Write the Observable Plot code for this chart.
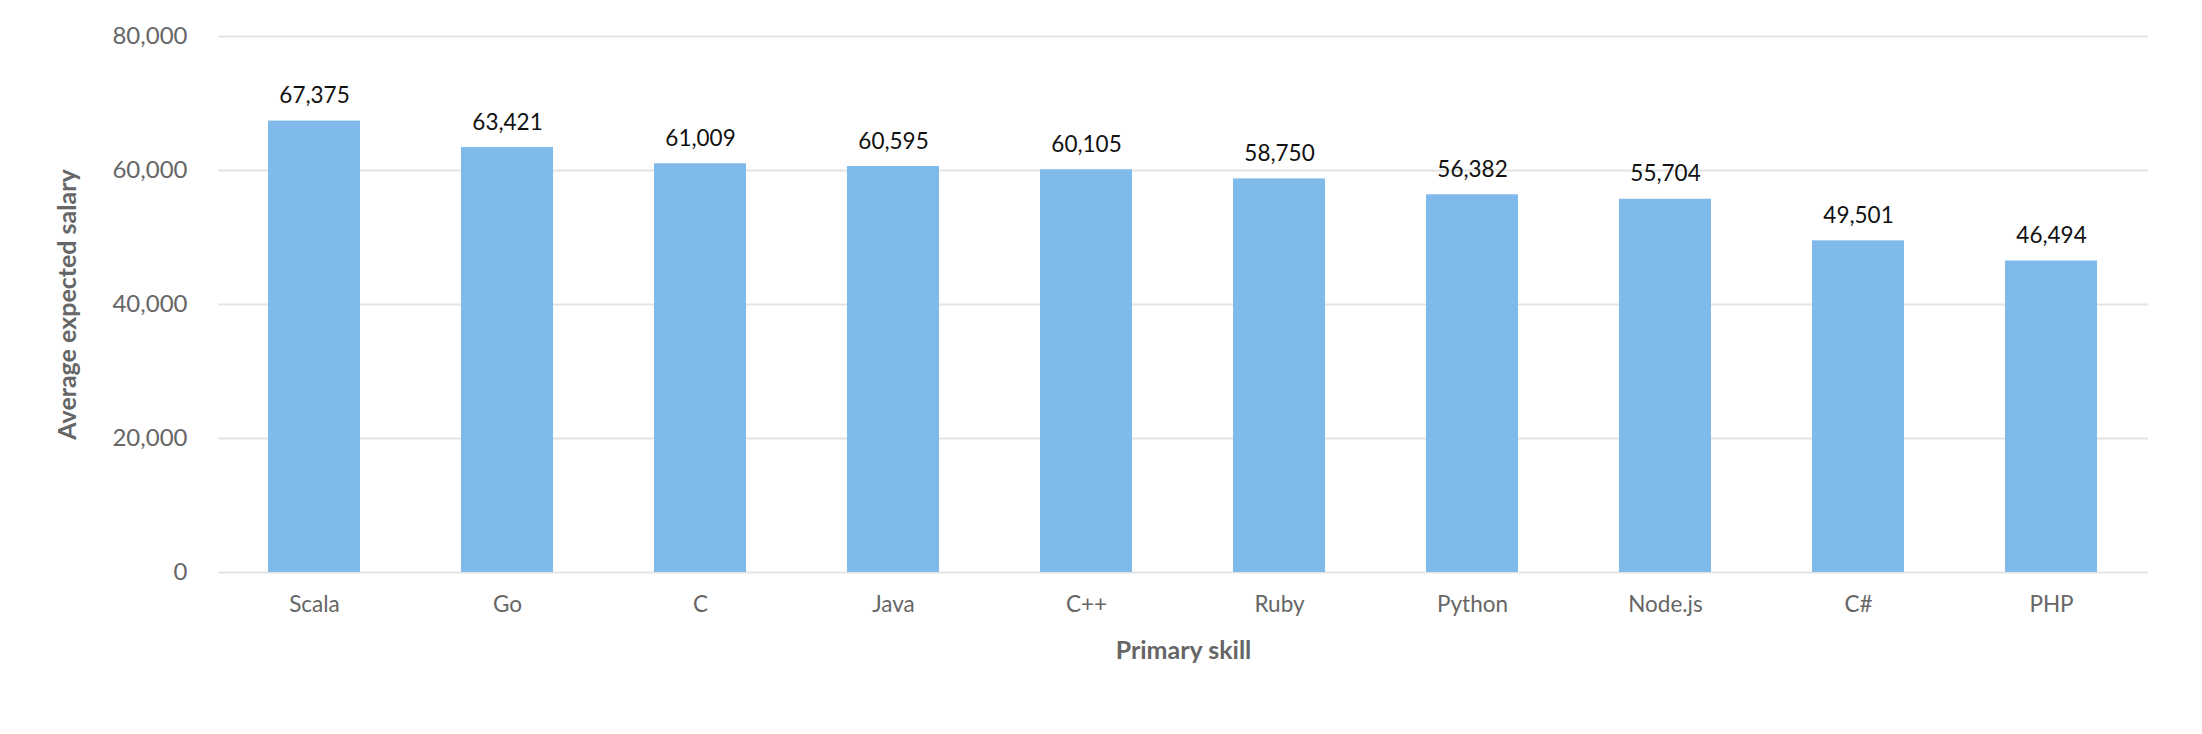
<!DOCTYPE html>
<html><head><meta charset="utf-8">
<script src="https://cdn.jsdelivr.net/npm/d3@7"></script>
<script src="https://cdn.jsdelivr.net/npm/@observablehq/plot@0.6"></script>
<style>body{margin:0;background:#fff}</style>
</head><body><div id="chart"></div>
<script>
const skills = ["Scala","Go","C","Java","C++","Ruby","Python","Node.js","C#","PHP"];
const salaries = [67375,63421,61009,60595,60105,58750,56382,55704,49501,46494];
const yTicks = [0,20000,40000,60000,80000];
const yTitle = "Average expected salary";
const xTitle = "Primary skill";

const data = skills.map((s,i)=>({skill:s, salary:salaries[i]}));
const fmt = d3.format(",");
const chart = Plot.plot({
  width: 2202, height: 734,
  marginTop: 36, marginBottom: 162, marginLeft: 218, marginRight: 54,
  style: {fontFamily: "Lato, sans-serif", fontSize: "22px", background:"#fff", color:"#666"},
  x: {domain: skills, paddingInner: 0.523, paddingOuter: 0.2615, label: null},
  y: {domain: [0,80000], label: null},
  marks: [
    Plot.gridY(yTicks, {stroke:"#e4e4e4", strokeOpacity:1, strokeWidth: 2}),
    Plot.barY(data, {x:"skill", y:"salary", fill:"#7fbaea"}),
    Plot.text(data, {x:"skill", y:"salary", text: d=>fmt(d.salary), dy:-25, fill:"#111", fontSize:22.5}),
    Plot.axisY(yTicks, {tickSize:0, tickPadding:31, tickFormat: fmt, fill:"#666", fontSize:24, label:null}),
    Plot.axisX({tickSize:0, tickPadding:24, fill:"#666", fontSize:22.5, label:null}),
    Plot.text([yTitle], {frameAnchor:"left", dx:-151, rotate:-90, textAnchor:"middle", fontWeight:"bold", fontSize:25, fill:"#666"}),
    Plot.text([xTitle], {frameAnchor:"bottom", dy:86, fontWeight:"bold", fontSize:25, fill:"#666"})
  ]
});
document.getElementById("chart").appendChild(chart);
</script>
</body></html>
